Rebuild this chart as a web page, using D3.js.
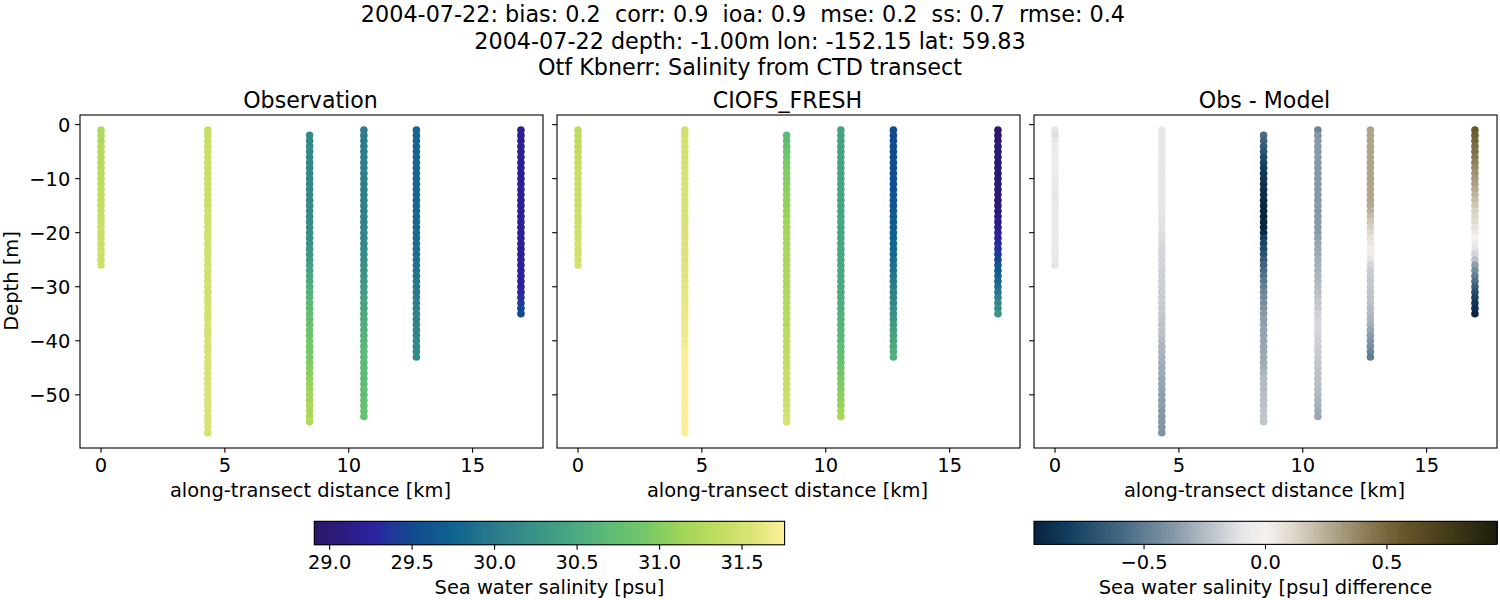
<!DOCTYPE html>
<html><head><meta charset="utf-8">
<script src="https://cdn.jsdelivr.net/npm/d3@7/dist/d3.min.js"></script>
<style>
html,body{margin:0;padding:0;background:#fff}
svg{display:block}
text{font-family:"DejaVu Sans";fill:#000;white-space:pre}
</style></head><body>
<div id="chart"></div>
<script>
const suptitleLines = ["2004-07-22: bias: 0.2  corr: 0.9  ioa: 0.9  mse: 0.2  ss: 0.7  rmse: 0.4  ",
  "2004-07-22 depth: -1.00m lon: -152.15 lat: 59.83",
  "Otf Kbnerr: Salinity from CTD transect"];
const panelTitles = ["Observation","CIOFS_FRESH","Obs - Model"];
const xTicks = [0,5,10,15];
const yTicks = [0,-10,-20,-30,-40,-50];
const salTicks = [29.0,29.5,30.0,30.5,31.0,31.5];
const diffTicks = [-0.5,0,0.5];

const stationKm = [0,4.31,8.42,10.61,12.73,16.95];
const firstDepth = [1,1,2,1,1,1];

const obs1=[31.22,31.24,31.25,31.27,31.28,31.29,31.30,31.31,31.32,31.33,31.34,31.35,31.36,31.37,31.38,31.39,31.40,31.41,31.42,31.42,31.43,31.43,31.44,31.44,31.45,31.45];
const obs2=[31.40,31.40,31.41,31.41,31.41,31.42,31.42,31.42,31.43,31.43,31.43,31.44,31.44,31.44,31.44,31.45,31.45,31.45,31.45,31.46,31.46,31.46,31.46,31.47,31.47,31.47,31.47,31.48,31.48,31.48,31.48,31.49,31.49,31.49,31.49,31.49,31.50,31.50,31.50,31.50,31.50,31.51,31.51,31.51,31.51,31.51,31.51,31.52,31.52,31.52,31.52,31.52,31.52,31.53,31.53,31.53,31.53];
const obs3=[30.17,30.16,30.15,30.15,30.15,30.14,30.14,30.14,30.15,30.15,30.15,30.16,30.16,30.17,30.18,30.18,30.19,30.20,30.21,30.22,30.24,30.26,30.29,30.33,30.38,30.42,30.47,30.51,30.55,30.59,30.63,30.67,30.71,30.75,30.78,30.81,30.84,30.86,30.88,30.90,30.92,30.94,30.96,30.99,31.02,31.05,31.08,31.11,31.14,31.16,31.18,31.20,31.22,31.25];
const obs4=[30.02,30.02,30.02,30.03,30.03,30.03,30.04,30.04,30.05,30.05,30.05,30.06,30.06,30.06,30.07,30.07,30.08,30.08,30.09,30.10,30.12,30.14,30.16,30.18,30.20,30.22,30.25,30.27,30.30,30.33,30.36,30.39,30.42,30.45,30.48,30.50,30.53,30.56,30.59,30.62,30.65,30.67,30.68,30.69,30.70,30.71,30.72,30.73,30.74,30.75,30.77,30.78,30.80,30.82];
const obs5=[29.79,29.79,29.79,29.79,29.79,29.78,29.78,29.78,29.78,29.78,29.79,29.79,29.79,29.80,29.80,29.80,29.81,29.81,29.82,29.83,29.84,29.85,29.86,29.87,29.88,29.90,29.91,29.93,29.95,29.97,29.99,30.01,30.03,30.05,30.07,30.08,30.09,30.10,30.11,30.12,30.13,30.13,30.14];
const obs6=[29.17,29.17,29.18,29.18,29.18,29.18,29.19,29.19,29.19,29.19,29.19,29.19,29.19,29.20,29.20,29.20,29.20,29.20,29.20,29.20,29.21,29.21,29.21,29.21,29.21,29.22,29.22,29.22,29.23,29.24,29.27,29.33,29.39,29.46,29.51];

const mod1=[31.33,31.34,31.35,31.36,31.37,31.37,31.38,31.39,31.39,31.40,31.41,31.41,31.42,31.43,31.43,31.44,31.45,31.45,31.46,31.47,31.47,31.48,31.48,31.49,31.49,31.50];
const mod2=[31.47,31.48,31.48,31.49,31.49,31.50,31.50,31.50,31.51,31.51,31.51,31.52,31.52,31.52,31.53,31.53,31.53,31.54,31.54,31.54,31.55,31.55,31.55,31.56,31.56,31.57,31.57,31.58,31.59,31.59,31.60,31.61,31.62,31.63,31.64,31.65,31.66,31.67,31.69,31.70,31.71,31.73,31.74,31.75,31.75,31.75,31.76,31.76,31.76,31.76,31.76,31.76,31.76,31.76,31.76,31.76,31.76];
const mod3=[30.67,30.73,30.79,30.84,30.88,30.93,30.95,30.97,30.99,31.01,31.03,31.04,31.06,31.07,31.09,31.11,31.13,31.14,31.16,31.17,31.17,31.18,31.19,31.19,31.20,31.21,31.22,31.22,31.23,31.24,31.25,31.26,31.27,31.28,31.29,31.30,31.31,31.32,31.33,31.34,31.35,31.36,31.37,31.38,31.39,31.40,31.41,31.42,31.43,31.45,31.46,31.47,31.49,31.51];
const mod4=[30.42,30.42,30.42,30.42,30.43,30.43,30.43,30.43,30.43,30.43,30.44,30.44,30.44,30.44,30.44,30.45,30.45,30.45,30.45,30.45,30.46,30.46,30.46,30.46,30.47,30.47,30.47,30.47,30.48,30.48,30.49,30.51,30.53,30.55,30.57,30.59,30.61,30.63,30.65,30.67,30.70,30.73,30.77,30.81,30.85,30.89,30.93,30.96,30.99,31.03,31.06,31.09,31.13,31.16];
const mod5=[29.51,29.51,29.51,29.52,29.52,29.52,29.53,29.53,29.54,29.55,29.56,29.57,29.59,29.61,29.63,29.65,29.67,29.69,29.71,29.73,29.75,29.77,29.79,29.82,29.85,29.88,29.91,29.95,29.98,30.02,30.06,30.10,30.14,30.18,30.22,30.27,30.31,30.35,30.40,30.44,30.49,30.53,30.57];
const mod6=[28.94,28.94,28.95,28.95,28.95,28.96,28.96,28.96,28.97,28.97,28.97,28.98,28.98,28.99,29.01,29.04,29.07,29.10,29.13,29.19,29.25,29.30,29.34,29.39,29.49,29.59,29.66,29.73,29.79,29.87,29.95,30.05,30.13,30.20,30.25];

const dif1=[-0.09,-0.12,-0.08,-0.06,-0.05,-0.05,-0.05,-0.05,-0.05,-0.06,-0.06,-0.07,-0.09,-0.09,-0.07,-0.06,-0.06,-0.06,-0.07,-0.07,-0.07,-0.08,-0.08,-0.09,-0.09,-0.10];
const dif2=[-0.09,-0.09,-0.09,-0.09,-0.09,-0.09,-0.09,-0.09,-0.09,-0.09,-0.09,-0.09,-0.09,-0.09,-0.10,-0.10,-0.10,-0.11,-0.11,-0.12,-0.13,-0.14,-0.15,-0.15,-0.16,-0.16,-0.17,-0.17,-0.17,-0.18,-0.18,-0.19,-0.19,-0.20,-0.20,-0.21,-0.22,-0.23,-0.24,-0.25,-0.27,-0.28,-0.29,-0.30,-0.31,-0.31,-0.32,-0.33,-0.34,-0.35,-0.36,-0.36,-0.37,-0.38,-0.39,-0.39,-0.40];
const dif3=[-0.58,-0.62,-0.66,-0.70,-0.74,-0.78,-0.81,-0.84,-0.86,-0.88,-0.89,-0.90,-0.92,-0.93,-0.93,-0.94,-0.94,-0.93,-0.92,-0.80,-0.77,-0.74,-0.70,-0.66,-0.62,-0.585,-0.55,-0.52,-0.49,-0.46,-0.44,-0.42,-0.40,-0.375,-0.36,-0.35,-0.34,-0.34,-0.33,-0.33,-0.32,-0.32,-0.31,-0.30,-0.28,-0.26,-0.26,-0.25,-0.25,-0.24,-0.23,-0.22,-0.22,-0.21];
const dif4=[-0.47,-0.39,-0.37,-0.37,-0.37,-0.37,-0.37,-0.375,-0.375,-0.375,-0.375,-0.375,-0.375,-0.375,-0.375,-0.375,-0.375,-0.375,-0.375,-0.375,-0.35,-0.33,-0.32,-0.31,-0.30,-0.29,-0.28,-0.27,-0.26,-0.25,-0.24,-0.22,-0.21,-0.19,-0.17,-0.16,-0.15,-0.15,-0.16,-0.17,-0.18,-0.19,-0.20,-0.21,-0.22,-0.23,-0.235,-0.24,-0.25,-0.26,-0.28,-0.29,-0.31,-0.325];
const dif5=[0.28,0.28,0.28,0.28,0.28,0.28,0.28,0.28,0.28,0.28,0.28,0.28,0.27,0.27,0.26,0.24,0.20,0.17,0.14,0.11,0.07,0.05,0.02,-0.04,-0.10,-0.15,-0.19,-0.20,-0.21,-0.21,-0.22,-0.23,-0.23,-0.25,-0.26,-0.275,-0.30,-0.33,-0.37,-0.39,-0.42,-0.46,-0.50];
const dif6=[0.56,0.54,0.51,0.48,0.46,0.43,0.40,0.37,0.34,0.32,0.29,0.26,0.23,0.20,0.17,0.14,0.12,0.10,0.07,0.04,0.00,-0.06,-0.10,-0.16,-0.23,-0.36,-0.42,-0.49,-0.56,-0.64,-0.71,-0.78,-0.84,-0.88,-0.92];

const salStops=[0,0.05,0.09,0.13,0.17,0.21,0.30,0.38,0.46,0.54,0.62,0.70,0.78,0.86,0.93,1];
const salColors=["#29186b","#2c1a78","#2c1f90","#2a23a0","#1f3a98","#11498f","#10648f","#2a7a8c","#389087","#47a682","#5cb978","#72c768","#a0d55a","#c0dd60","#dde477","#fdef9a"];
const difStops=[0,0.08,0.2,0.3,0.38,0.45,0.5,0.56,0.64,0.72,0.8,0.9,1];
const difColors=["#07223e","#143f60","#4a6d87","#8497a6","#bcc2c9","#e6e6e8","#f6f1ef","#dfd8cc","#b3a88e","#8a7b55","#66552a","#403a17","#1a1c0b"];

const W=1500,H=600;
const svg=d3.select("#chart").append("svg").attr("width",W).attr("height",H);
const FS=19.44,TS=22.3;

const salMin=28.907,salMax=31.758,difMax=0.953;
const salT=d3.scaleLinear().domain(salStops.map(t=>salMin+(salMax-salMin)*t)).range(salColors).interpolate(d3.interpolateRgb);
const difT=d3.scaleLinear().domain(difStops.map(t=>-difMax+2*difMax*t)).range(difColors).interpolate(d3.interpolateRgb);

const panels=[
 {x0:80,vals:[obs1,obs2,obs3,obs4,obs5,obs6],c:salT,title:panelTitles[0]},
 {x0:557,vals:[mod1,mod2,mod3,mod4,mod5,mod6],c:salT,title:panelTitles[1]},
 {x0:1034,vals:[dif1,dif2,dif3,dif4,dif5,dif6],c:difT,title:panelTitles[2]}
];
const T=115,B=448,PW=463;
const y=d3.scaleLinear().domain([1.776,-59.8]).range([T,B-0.2]);

suptitleLines.forEach((s,i)=>{
  svg.append("text").attr("x",750).attr("y",[22,49,75][i]).attr("text-anchor","middle").attr("font-size",TS).text(s);
});

panels.forEach((p,pi)=>{
  const x=d3.scaleLinear().domain([-0.848,17.8]).range([p.x0,p.x0+462]);
  const g=svg.append("g");
  p.vals.forEach((arr,si)=>{
    g.append("g").selectAll("circle").data(arr).join("circle")
      .attr("cx",x(stationKm[si]))
      .attr("cy",(d,i)=>y(-(firstDepth[si]+i)))
      .attr("r",3.8)
      .attr("fill",d=>p.c(d));
  });
  const ax=d3.axisBottom(x).tickValues(xTicks).tickSize(4.86).tickPadding(5.5).tickFormat(d3.format("d")).offset(0);
  const ga=svg.append("g").attr("transform",`translate(0,${B})`).call(ax);
  const ay=d3.axisLeft(y).tickValues(yTicks).tickSize(4.86).tickPadding(4.86).offset(0)
     .tickFormat(pi===0?d3.format("d"):"");
  const gy=svg.append("g").attr("transform",`translate(${p.x0},0)`).call(ay);
  gy.selectAll(".tick text").attr("dy","0.37em");
  [ga,gy].forEach(a=>{
    a.select(".domain").remove();
    a.selectAll(".tick line").attr("stroke","#000").attr("stroke-width",1.1);
    a.selectAll(".tick text").attr("font-size",FS).attr("font-family","DejaVu Sans").attr("fill","#000");
  });
  svg.append("rect").attr("x",p.x0).attr("y",T).attr("width",PW).attr("height",B-T)
    .attr("fill","none").attr("stroke","#000").attr("stroke-width",1.1);
  svg.append("text").attr("x",p.x0+PW/2-1).attr("y",107.5).attr("text-anchor","middle").attr("font-size",22.1).text(p.title);
  svg.append("text").attr("x",p.x0+PW/2-1).attr("y",496.5).attr("text-anchor","middle").attr("font-size",FS).text("along-transect distance [km]");
});
svg.append("text").attr("transform","translate(18,281) rotate(-90)").attr("text-anchor","middle").attr("font-size",FS).text("Depth [m]");

function colorbar(x0,x1,y0,y1,dom,color,ticks,fmt,label){
  const s=d3.scaleLinear().domain(dom).range([x0,x1]);
  const steps=d3.range(256).map(i=>dom[0]+(dom[1]-dom[0])*(i+0.5)/256);
  const w=(x1-x0)/256;
  svg.append("g").selectAll("rect").data(steps).join("rect")
    .attr("x",d=>s(d)-w/2).attr("y",y0).attr("width",w+0.6).attr("height",y1-y0).attr("fill",d=>color(d)).attr("shape-rendering","crispEdges");
  const a=svg.append("g").attr("transform",`translate(0,${y1})`)
    .call(d3.axisBottom(s).tickValues(ticks).tickSize(4.86).tickPadding(5.5).tickFormat(fmt).offset(0));
  a.select(".domain").remove();
  a.selectAll(".tick line").attr("stroke","#000").attr("stroke-width",1.1);
  a.selectAll(".tick text").attr("font-size",FS).attr("font-family","DejaVu Sans").attr("fill","#000");
  svg.append("rect").attr("x",x0).attr("y",y0).attr("width",x1-x0).attr("height",y1-y0)
    .attr("fill","none").attr("stroke","#000").attr("stroke-width",1.1);
  svg.append("text").attr("x",(x0+x1)/2).attr("y",593.5).attr("text-anchor","middle").attr("font-size",FS).text(label);
}
colorbar(314.3,784.6,521.3,544.8,[salMin,salMax],salT,salTicks,d3.format(".1f"),"Sea water salinity [psu]");
colorbar(1034,1497,521.3,544.4,[-difMax,difMax],difT,diffTicks,d3.format(".1f"),"Sea water salinity [psu] difference");
</script>
</body></html>
